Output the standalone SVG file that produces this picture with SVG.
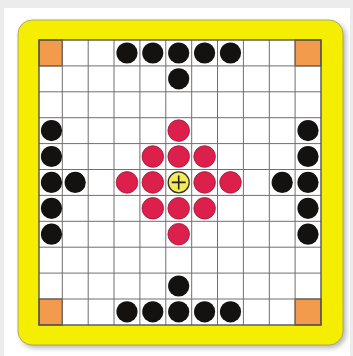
<svg xmlns="http://www.w3.org/2000/svg" width="353" height="356" viewBox="0 0 353 356">
<defs>
<style>
.grid{stroke:#6f6f6f;stroke-width:1;fill:none}
.corner{fill:#f29b4d;stroke:#6b5130;stroke-width:1.2}
.b{fill:#141111}
.r{fill:#dc1f4b;stroke:#a3163a;stroke-width:0.8}
</style>
<filter id="sh" x="-10%" y="-10%" width="120%" height="120%">
<feGaussianBlur stdDeviation="2.5"/>
</filter>
</defs>
<rect x="0" y="0" width="353" height="356" fill="#ececec"/>
<rect x="4" y="8" width="346" height="350" fill="#ffffff"/>
<rect x="20" y="22" width="326" height="326" rx="15" fill="#b8b8b8" filter="url(#sh)"/>
<rect x="18" y="20" width="325" height="325" rx="14" fill="#f6ee00" stroke="#9a9a70" stroke-width="0.8"/>
<rect x="39" y="40" width="282" height="285" fill="#ffffff"/>
<g id="corners">
<rect class="corner" x="39" y="40" width="23.3" height="25.9"/>
<rect class="corner" x="295.1" y="40" width="25.9" height="25.9"/>
<rect class="corner" x="39" y="299" width="23.3" height="25.9"/>
<rect class="corner" x="295.1" y="299" width="25.9" height="25.9"/>
</g>
<g id="grid" class="grid">
<path d="M62.3 40V325M88.2 40V325M114 40V325M139.9 40V325M165.8 40V325M191.7 40V325M217.5 40V325M243.4 40V325M269.3 40V325M295.1 40V325"/>
<path d="M39 65.9H321M39 91.8H321M39 117.7H321M39 143.6H321M39 169.5H321M39 195.4H321M39 221.3H321M39 247.2H321M39 273.1H321M39 299H321"/>
<rect x="39" y="40" width="282" height="285" stroke="#555" stroke-width="1.4"/>
</g>
<g id="black">
<circle class="b" cx="127" cy="53" r="10.6"/>
<circle class="b" cx="152.8" cy="53" r="10.6"/>
<circle class="b" cx="178.7" cy="53" r="10.6"/>
<circle class="b" cx="204.6" cy="53" r="10.6"/>
<circle class="b" cx="230.5" cy="53" r="10.6"/>
<circle class="b" cx="178.7" cy="78.8" r="10.6"/>
<circle class="b" cx="178.7" cy="286" r="10.6"/>
<circle class="b" cx="127" cy="311.8" r="10.6"/>
<circle class="b" cx="152.8" cy="311.8" r="10.6"/>
<circle class="b" cx="178.7" cy="311.8" r="10.6"/>
<circle class="b" cx="204.6" cy="311.8" r="10.6"/>
<circle class="b" cx="230.5" cy="311.8" r="10.6"/>
<circle class="b" cx="51.5" cy="130.6" r="10.6"/>
<circle class="b" cx="51.5" cy="156.5" r="10.6"/>
<circle class="b" cx="51.5" cy="182.4" r="10.6"/>
<circle class="b" cx="51.5" cy="208.3" r="10.6"/>
<circle class="b" cx="51.5" cy="234.2" r="10.6"/>
<circle class="b" cx="75.2" cy="182.4" r="10.6"/>
<circle class="b" cx="308" cy="130.6" r="10.6"/>
<circle class="b" cx="308" cy="156.5" r="10.6"/>
<circle class="b" cx="308" cy="182.4" r="10.6"/>
<circle class="b" cx="308" cy="208.3" r="10.6"/>
<circle class="b" cx="308" cy="234.2" r="10.6"/>
<circle class="b" cx="282.2" cy="182.4" r="10.6"/>
</g>
<g id="red">
<circle class="r" cx="178.7" cy="130.6" r="10.8"/>
<circle class="r" cx="152.8" cy="156.5" r="10.8"/>
<circle class="r" cx="178.7" cy="156.5" r="10.8"/>
<circle class="r" cx="204.6" cy="156.5" r="10.8"/>
<circle class="r" cx="127" cy="182.4" r="10.8"/>
<circle class="r" cx="152.8" cy="182.4" r="10.8"/>
<circle class="r" cx="204.6" cy="182.4" r="10.8"/>
<circle class="r" cx="230.5" cy="182.4" r="10.8"/>
<circle class="r" cx="152.8" cy="208.3" r="10.8"/>
<circle class="r" cx="178.7" cy="208.3" r="10.8"/>
<circle class="r" cx="204.6" cy="208.3" r="10.8"/>
<circle class="r" cx="178.7" cy="234.2" r="10.8"/>
</g>
<g id="king">
<circle cx="178.7" cy="182.4" r="10.5" fill="#f3ea5a" stroke="#3a3520" stroke-width="1.3"/>
<path d="M178.7 175.4V189.4M171.7 182.4H185.7" stroke="#2a2418" stroke-width="1.6"/>
</g>
</svg>
